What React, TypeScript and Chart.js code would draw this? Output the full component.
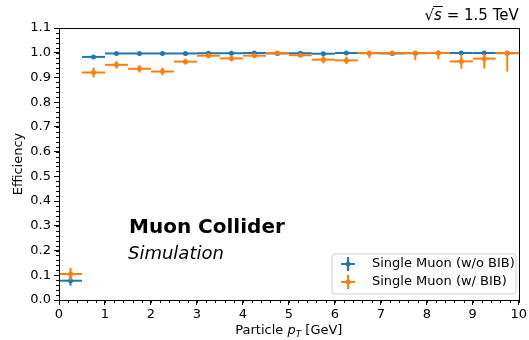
import { useEffect, useRef } from "react";
import { Chart, registerables } from "chart.js";

Chart.register(...registerables);

const binCenters = [0.25, 0.75, 1.25, 1.75, 2.25, 2.75, 3.25, 3.75, 4.25, 4.75, 5.25, 5.75, 6.25, 6.75, 7.25, 7.75, 8.25, 8.75, 9.25, 9.75];
const binHalfWidth = 0.25;

const noBibEff = [0.078, 0.983, 0.997, 0.997, 0.997, 0.997, 0.998, 0.998, 0.999, 0.997, 0.998, 0.996, 0.999, 0.998, 0.997, 0.998, 0.999, 0.999, 0.999, 0.998];
const noBibErrLow = [0.02, 0.006, 0.003, 0.003, 0.003, 0.003, 0.003, 0.003, 0.003, 0.003, 0.003, 0.004, 0.003, 0.003, 0.003, 0.003, 0.003, 0.003, 0.003, 0.004];
const noBibErrHigh = [0.02, 0.006, 0.003, 0.003, 0.003, 0.003, 0.002, 0.002, 0.001, 0.003, 0.002, 0.004, 0.001, 0.002, 0.003, 0.002, 0.001, 0.001, 0.001, 0.002];

const bibEff = [0.105, 0.92, 0.951, 0.935, 0.924, 0.964, 0.988, 0.977, 0.988, 0.999, 0.99, 0.972, 0.969, 0.999, 0.999, 0.999, 0.999, 0.965, 0.976, 0.999];
const bibErrLow = [0.025, 0.02, 0.015, 0.015, 0.015, 0.012, 0.01, 0.012, 0.01, 0.005, 0.008, 0.015, 0.015, 0.02, 0.01, 0.028, 0.025, 0.03, 0.04, 0.075];
const bibErrHigh = [0.025, 0.02, 0.015, 0.015, 0.015, 0.012, 0.01, 0.012, 0.01, 0.001, 0.008, 0.015, 0.015, 0.001, 0.001, 0.001, 0.001, 0.03, 0.02, 0.001];

const seriesLabels = ["Single Muon (w/o BIB)", "Single Muon (w/ BIB)"];
const seriesColors = ["#1f77b4", "#ff7f0e"];

const xMin = 0;
const xMax = 10;
const xStep = 1;
const xMinorStep = 0.2;
const yMin = 0;
const yMax = 1.1;
const yStep = 0.1;
const yMinorStep = 0.02;

const FONT = "'DejaVu Sans', sans-serif";

const errorBarPlugin = {
  id: "errorBars",
  beforeDatasetDraw(chart: any, args: any) {
    const ds = chart.data.datasets[args.index];
    const ctx = chart.ctx;
    const xs = chart.scales.x;
    const ys = chart.scales.y;
    ctx.save();
    ctx.strokeStyle = ds.borderColor;
    ctx.lineWidth = 2;
    ds.data.forEach((p: any, i: number) => {
      const y = ys.getPixelForValue(p.y);
      ctx.beginPath();
      ctx.moveTo(xs.getPixelForValue(p.x - ds.xHalf), y);
      ctx.lineTo(xs.getPixelForValue(p.x + ds.xHalf), y);
      ctx.stroke();
      const x = xs.getPixelForValue(p.x);
      ctx.beginPath();
      ctx.moveTo(x, ys.getPixelForValue(p.y - ds.errLow[i]));
      ctx.lineTo(x, ys.getPixelForValue(p.y + ds.errHigh[i]));
      ctx.stroke();
    });
    ctx.restore();
  },
};

const decorPlugin = {
  id: "decor",
  afterDraw(chart: any) {
    const ctx = chart.ctx;
    const { left, right, top, bottom } = chart.chartArea;
    const xs = chart.scales.x;
    const ys = chart.scales.y;
    ctx.save();
    // frame
    ctx.strokeStyle = "#000";
    ctx.lineWidth = 1;
    ctx.strokeRect(Math.round(left) + 0.5, Math.round(top) + 0.5, Math.round(right - left), Math.round(bottom - top));
    // minor ticks
    ctx.beginPath();
    for (let v = xMin; v <= xMax + 1e-9; v += xMinorStep) {
      const px = Math.round(xs.getPixelForValue(v)) + 0.5;
      ctx.moveTo(px, bottom);
      ctx.lineTo(px, bottom + 3);
    }
    for (let v = yMin; v <= yMax + 1e-9; v += yMinorStep) {
      const py = Math.round(ys.getPixelForValue(v)) + 0.5;
      ctx.moveTo(left, py);
      ctx.lineTo(left - 3, py);
    }
    ctx.stroke();

    // x title with subscript
    ctx.fillStyle = "#000";
    ctx.textBaseline = "alphabetic";
    const f1 = `13px ${FONT}`;
    const fi = `italic 13px ${FONT}`;
    const fs = `italic 9px ${FONT}`;
    const parts: [string, string, number][] = [
      ["Particle ", f1, 0],
      ["p", fi, 0],
      ["T", fs, 3],
      [" [GeV]", f1, 0],
    ];
    let total = 0;
    parts.forEach(([t, f]) => {
      ctx.font = f;
      total += ctx.measureText(t).width;
    });
    let cx = (left + right) / 2 - total / 2;
    const by = 334;
    parts.forEach(([t, f, dy]) => {
      ctx.font = f;
      ctx.fillText(t, cx, by + dy);
      cx += ctx.measureText(t).width;
    });

    // sqrt(s) label
    const fl = `15px ${FONT}`;
    const fsi = `italic 15px ${FONT}`;
    ctx.font = fl;
    const rest = " = 1.5 TeV";
    const wRest = ctx.measureText(rest).width;
    const wRoot = ctx.measureText("\u221A").width;
    ctx.font = fsi;
    const wS = ctx.measureText("s").width;
    let sx = right - wRest - wS - wRoot;
    const sy = 20;
    ctx.font = fl;
    ctx.fillText("\u221A", sx, sy);
    sx += wRoot;
    ctx.font = fsi;
    ctx.fillText("s", sx, sy);
    ctx.beginPath();
    ctx.moveTo(sx - 1, sy - 13.5);
    ctx.lineTo(sx + wS + 1, sy - 13.5);
    ctx.lineWidth = 1;
    ctx.stroke();
    sx += wS;
    ctx.font = fl;
    ctx.fillText(rest, sx, sy);

    // Muon Collider / Simulation
    ctx.font = `bold 20px ${FONT}`;
    ctx.fillText("Muon Collider", left + 70, 233);
    ctx.font = `italic 18px ${FONT}`;
    ctx.fillText("Simulation", left + 69, 259);

    // legend
    const lx = 332;
    const ly = 254;
    const lw = 184;
    const lh = 40;
    ctx.fillStyle = "rgba(255,255,255,0.8)";
    ctx.strokeStyle = "#d0d0d0";
    ctx.lineWidth = 1;
    ctx.beginPath();
    const r = 3;
    ctx.moveTo(lx + r, ly);
    ctx.lineTo(lx + lw - r, ly);
    ctx.arcTo(lx + lw, ly, lx + lw, ly + r, r);
    ctx.lineTo(lx + lw, ly + lh - r);
    ctx.arcTo(lx + lw, ly + lh, lx + lw - r, ly + lh, r);
    ctx.lineTo(lx + r, ly + lh);
    ctx.arcTo(lx, ly + lh, lx, ly + lh - r, r);
    ctx.lineTo(lx, ly + r);
    ctx.arcTo(lx, ly, lx + r, ly, r);
    ctx.closePath();
    ctx.fill();
    ctx.stroke();
    ctx.font = `13px ${FONT}`;
    ctx.textBaseline = "middle";
    seriesLabels.forEach((lab, i) => {
      const yy = ly + 10 + i * 18;
      const mx = 348;
      ctx.strokeStyle = seriesColors[i];
      ctx.lineWidth = 2;
      ctx.beginPath();
      ctx.moveTo(mx - 7, yy);
      ctx.lineTo(mx + 7, yy);
      ctx.moveTo(mx, yy - 7);
      ctx.lineTo(mx, yy + 7);
      ctx.stroke();
      ctx.fillStyle = seriesColors[i];
      ctx.beginPath();
      ctx.arc(mx, yy, 2.5, 0, Math.PI * 2);
      ctx.fill();
      ctx.fillStyle = "#000";
      ctx.fillText(lab, 372, yy);
    });
    ctx.restore();
  },
};

export default function App() {
  const ref = useRef<HTMLCanvasElement>(null);
  useEffect(() => {
    if (!ref.current) return;
    const mk = (eff: number[]) => binCenters.map((x, i) => ({ x, y: eff[i] }));
    const chart = new Chart(ref.current, {
      type: "scatter",
      data: {
        datasets: [
          {
            label: seriesLabels[0],
            data: mk(noBibEff),
            borderColor: seriesColors[0],
            backgroundColor: seriesColors[0],
            pointRadius: 2.5,
            pointBorderWidth: 0,
            order: 2,
            xHalf: binHalfWidth,
            errLow: noBibErrLow,
            errHigh: noBibErrHigh,
          } as any,
          {
            label: seriesLabels[1],
            data: mk(bibEff),
            borderColor: seriesColors[1],
            backgroundColor: seriesColors[1],
            pointRadius: 2.5,
            pointBorderWidth: 0,
            order: 1,
            xHalf: binHalfWidth,
            errLow: bibErrLow,
            errHigh: bibErrHigh,
          } as any,
        ],
      },
      options: {
        animation: false,
        responsive: true,
        maintainAspectRatio: false,
        layout: { padding: { left: 0, top: 28, right: 8, bottom: 0 } },
        plugins: {
          legend: { display: false },
          tooltip: { enabled: false },
        },
        scales: {
          x: {
            type: "linear",
            min: xMin,
            max: xMax,
            ticks: {
              stepSize: xStep,
              color: "#000",
              font: { family: FONT, size: 13 },
              padding: 2,
              maxRotation: 0,
            },
            grid: { drawOnChartArea: false, drawTicks: true, tickLength: 5, tickColor: "#000" },
            border: { display: true, color: "#000" },
            afterFit(scale: any) {
              scale.height = 40;
            },
          },
          y: {
            type: "linear",
            min: yMin,
            max: yMax,
            ticks: {
              stepSize: yStep,
              color: "#000",
              font: { family: FONT, size: 13 },
              padding: 3,
              callback: (v: any) => Number(v).toFixed(1),
            },
            title: {
              display: true,
              text: "Efficiency",
              color: "#000",
              font: { family: FONT, size: 13 },
              padding: { top: 11, bottom: 4 },
            },
            grid: { drawOnChartArea: false, drawTicks: true, tickLength: 5, tickColor: "#000" },
            border: { display: true, color: "#000" },
            afterFit(scale: any) {
              scale.width = 59;
            },
          },
        },
      },
      plugins: [errorBarPlugin, decorPlugin],
    });
    return () => chart.destroy();
  }, []);
  return (
    <div style={{ position: "absolute", left: 0, top: 0, width: 529, height: 340, background: "#fff" }}>
      <canvas ref={ref} />
    </div>
  );
}
